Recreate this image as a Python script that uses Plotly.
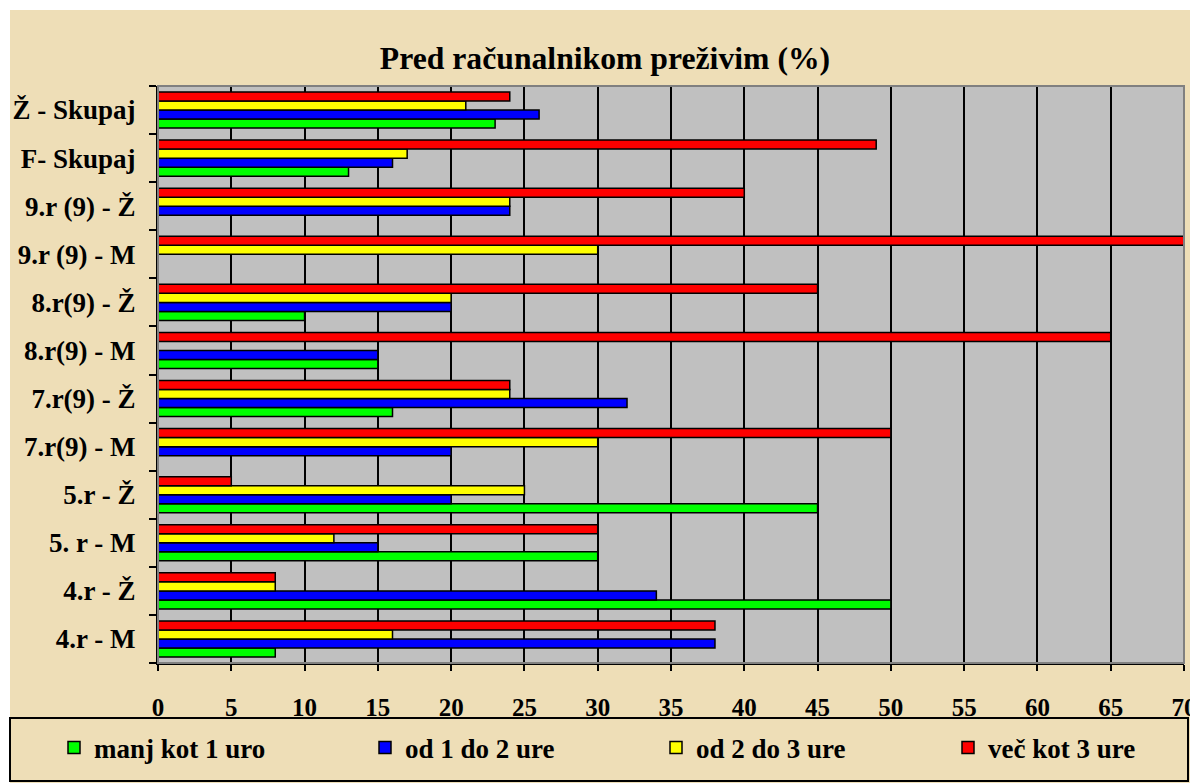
import plotly.graph_objects as go

categories = ["4.r - M", "4.r - Ž", "5. r - M", "5.r - Ž", "7.r(9) - M", "7.r(9) - Ž",
              "8.r(9) - M", "8.r(9) - Ž", "9.r (9) - M", "9.r (9) - Ž", "F- Skupaj", "Ž - Skupaj"]
series_names = ["manj kot 1 uro", "od 1 do 2 ure", "od 2 do 3 ure", "več kot 3 ure"]
manj_1 = [8, 50, 30, 45, 0, 16, 15, 10, 0, 0, 13, 23]
od_1_2 = [38, 34, 15, 20, 20, 32, 15, 20, 0, 24, 16, 26]
od_2_3 = [16, 8, 12, 25, 30, 24, 0, 20, 30, 24, 17, 21]
vec_3 = [38, 8, 30, 5, 50, 24, 65, 45, 70, 40, 49, 24]
colors = ["#00FF00", "#0000FF", "#FFFF00", "#FF0000"]
x_ticks = list(range(0, 71, 5))

# The page body has an 8px margin, so the figure is drawn 8px right/down.
OFF = 8
W, H = 1198 - OFF, 783 - OFF
# plot area in screen coords: x 158..1184, y 86..663
L, T = 158 - OFF, 86 - OFF
R = W - (1184 - OFF)
B = H - (663 - OFF)
pw, ph = W - L - R, H - T - B

def px(xs):
    # screen x -> paper x
    return (xs - OFF - L) / pw

def py(ys):
    # screen y -> paper y
    return (H - B - (ys - OFF)) / ph

FONT = "Liberation Serif"
legend_ids = ["legend", "legend2", "legend3", "legend4"]
legend_text_x = [94, 405, 696, 988]   # screen x where legend text starts

fig = go.Figure()
for name, vals, col, lid in zip(series_names, [manj_1, od_1_2, od_2_3, vec_3], colors, legend_ids):
    fig.add_trace(go.Bar(
        y=categories, x=vals, name=name, orientation="h", legend=lid,
        marker=dict(color=col, line=dict(color="black", width=1.5)),
    ))

legend_layouts = {}
for lid, tx in zip(legend_ids, legend_text_x):
    legend_layouts[lid] = dict(
        xref="container", yref="container",
        x=(tx - 40 - OFF) / W, xanchor="left", y=1 - (748 - OFF) / H, yanchor="middle",
        bgcolor="rgba(0,0,0,0)", borderwidth=0, itemwidth=30,
        font=dict(family=FONT, size=27, color="black", weight="bold"),
    )

fig.update_layout(
    width=W, height=H,
    margin=dict(l=L, r=R, t=T, b=B, pad=0, autoexpand=False),
    paper_bgcolor="#EEDEB7",
    plot_bgcolor="#C0C0C0",
    barmode="group", bargap=0.25, bargroupgap=0,
    font=dict(family=FONT, size=27, color="black", weight="bold"),
    title=dict(text="Pred računalnikom preživim (%)", x=(605 - OFF) / W, xref="container",
               y=1 - (58 - OFF) / H, yanchor="middle", xanchor="center",
               font=dict(family=FONT, size=31.7, color="black", weight="bold")),
    showlegend=True,
    xaxis=dict(range=[0, 70], tickvals=x_ticks, ticktext=[str(v) for v in x_ticks],
               showgrid=True, gridcolor="black", gridwidth=2,
               showline=True, linecolor="black", linewidth=2,
               ticks="outside", ticklen=6, tickwidth=2, tickcolor="black",
               ticklabelstandoff=15, zeroline=False, automargin=False,
               tickfont=dict(family=FONT, size=25, color="black", weight="bold")),
    yaxis=dict(type="category", categoryorder="array", categoryarray=categories,
               showgrid=False, showline=True, linecolor="black", linewidth=2,
               ticks="outside", ticklen=7, tickwidth=2, tickcolor="black",
               tickson="boundaries", ticklabelstandoff=15, automargin=False,
               tickfont=dict(family=FONT, size=27, color="black", weight="bold")),
    shapes=[
        dict(type="rect", xref="paper", yref="paper", x0=px(-20), x1=px(10),
             y0=py(800), y1=py(-20), fillcolor="white", line=dict(width=0), layer="below"),
        dict(type="rect", xref="paper", yref="paper", x0=px(-20), x1=px(1220),
             y0=py(10), y1=py(-20), fillcolor="white", line=dict(width=0), layer="below"),
        dict(type="rect", xref="paper", yref="paper", x0=0, x1=1, y0=0, y1=1,
             line=dict(color="#808080", width=2), fillcolor="rgba(0,0,0,0)", layer="above"),
        dict(type="rect", xref="paper", yref="paper", x0=px(10), x1=px(1188),
             y0=py(781), y1=py(718), line=dict(color="black", width=2),
             fillcolor="rgba(0,0,0,0)", layer="above"),
    ],
    **legend_layouts,
)

fig.write_html("out.html")
